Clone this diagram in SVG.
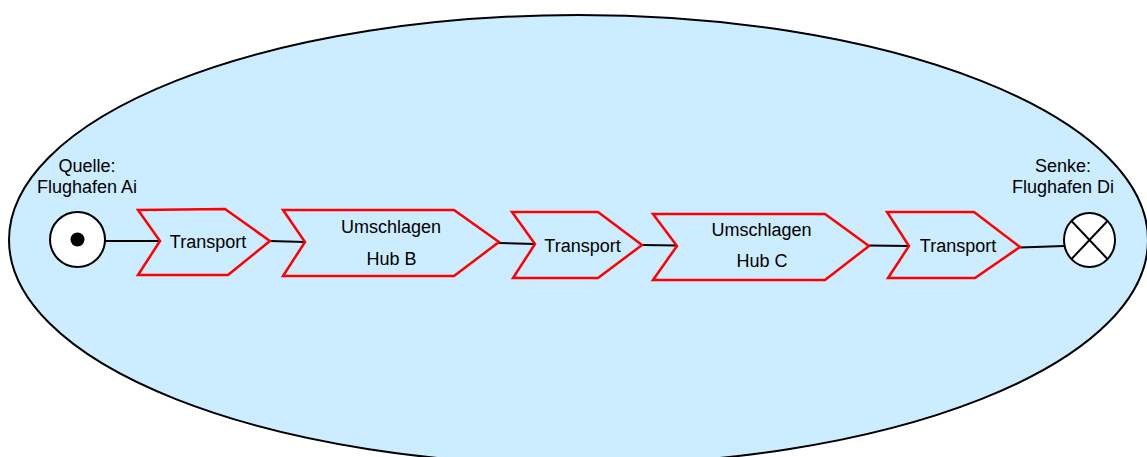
<svg xmlns="http://www.w3.org/2000/svg" width="1147" height="457" viewBox="0 0 1147 457">
<style>
.lbl{font-family:"Liberation Sans",Arial,sans-serif;font-size:18px;fill:#000;text-anchor:middle}
.step{fill:none;stroke:#ff0000;stroke-width:2.5;stroke-linejoin:miter}
.conn{stroke:#000;stroke-width:2;fill:none}
.term{fill:#fff;stroke:#000;stroke-width:2}
</style>
<rect width="1147" height="457" fill="#fff"/>
<g id="scope">
<ellipse cx="578.5" cy="240" rx="569.5" ry="225" fill="#ccecff" stroke="#000" stroke-width="2"/>
</g>
<g id="connectors">
<line class="conn" x1="105" y1="241" x2="160" y2="241"/>
<line class="conn" x1="270" y1="241" x2="305" y2="242"/>
<line class="conn" x1="499" y1="243" x2="535" y2="244"/>
<line class="conn" x1="642" y1="245" x2="677" y2="245.5"/>
<line class="conn" x1="869" y1="245.5" x2="909" y2="246"/>
<line class="conn" x1="1020" y1="247.5" x2="1064" y2="246"/>
</g>
<g id="source">
<circle class="term" cx="77.5" cy="239.5" r="27.5"/>
<circle cx="77.5" cy="239.5" r="7" fill="#000"/>
<text class="lbl" x="87" y="172">Quelle:</text>
<text class="lbl" x="87" y="193">Flughafen Ai</text>
</g>
<g id="transport1">
<polygon class="step" points="138,210 225,209 270,241 228,275 138,275 160,241"/>
<text class="lbl" x="208" y="248">Transport</text>
</g>
<g id="hubB">
<polygon class="step" points="283,210 454,210 499,242 454,276 283,276 305,242"/>
<text class="lbl" x="391" y="233">Umschlagen</text>
<text class="lbl" x="391.5" y="265">Hub B</text>
</g>
<g id="transport2">
<polygon class="step" points="512,212 598,212 642,245 598,278 513,278 535,244"/>
<text class="lbl" x="582.5" y="251.5">Transport</text>
</g>
<g id="hubC">
<polygon class="step" points="653,214 825,214 869,246 825,280 653,280 677,246"/>
<text class="lbl" x="761.5" y="236">Umschlagen</text>
<text class="lbl" x="762" y="267">Hub C</text>
</g>
<g id="transport3">
<polygon class="step" points="887,212 974,212 1020,247 975,278 888,278 909,246"/>
<text class="lbl" x="958" y="252">Transport</text>
</g>
<g id="sink">
<ellipse class="term" cx="1089.5" cy="240" rx="25.5" ry="27"/>
<line class="conn" x1="1071.5" y1="221" x2="1107.5" y2="259"/>
<line class="conn" x1="1107.5" y1="221" x2="1071.5" y2="259"/>
<text class="lbl" x="1063" y="172">Senke:</text>
<text class="lbl" x="1063" y="193">Flughafen Di</text>
</g>
</svg>
